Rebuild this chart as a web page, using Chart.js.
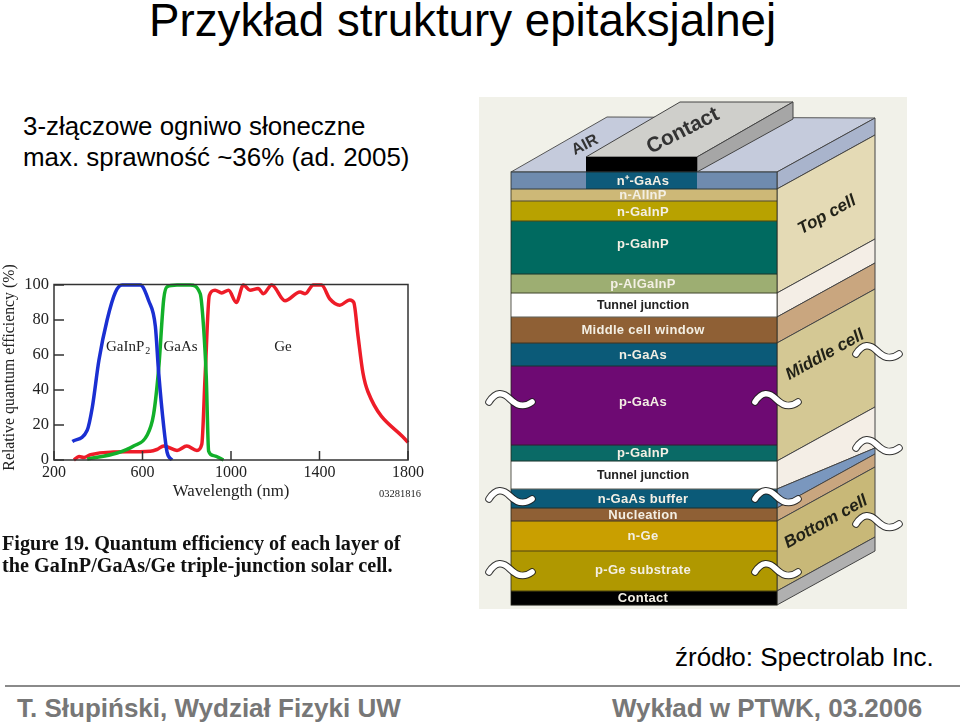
<!DOCTYPE html>
<html lang="pl"><head><meta charset="utf-8">
<script src="https://cdn.jsdelivr.net/npm/chart.js@4/dist/chart.umd.min.js"></script>
<style>
html,body{margin:0;padding:0;background:#fff;width:960px;height:723px;overflow:hidden}
body{position:relative;font-family:"Liberation Sans",Arial,sans-serif;color:#000}
.t{position:absolute;white-space:nowrap}
canvas{position:absolute;filter:blur(.45px)}
.cap{font-family:"Liberation Serif",serif;font-weight:bold;font-size:20.2px;line-height:22px;color:#111;filter:blur(.35px)}
.foot{font-weight:bold;font-size:26px;line-height:30px;color:#777}
#rule{position:absolute;left:5px;top:685px;width:955px;height:2px;background:#8a8a8a}
</style></head><body>
<div class="t" style="left:149px;top:-4px;font-size:45.7px;line-height:50px">Przykład struktury epitaksjalnej</div>
<div class="t" style="left:23px;top:112px;font-size:25.9px;line-height:29px">3-złączowe ogniwo słoneczne</div>
<div class="t" style="left:23px;top:143px;font-size:25.9px;line-height:29px">max. sprawność ~36% (ad. 2005)</div>
<canvas id="qe" width="430" height="240" style="left:0;top:262px"></canvas>
<div class="t" style="left:379px;top:488px;font:10.5px 'Liberation Serif',serif;color:#222">03281816</div>
<div class="t cap" style="left:2px;top:532px">Figure 19. Quantum efficiency of each layer of</div>
<div class="t cap" style="left:2px;top:554px">the GaInP/GaAs/Ge triple-junction solar cell.</div>
<canvas id="stack" width="428" height="512" style="left:479px;top:97px;background:#f1f1e9"></canvas>
<div class="t" style="left:675px;top:642px;font-size:26px;line-height:30px">źródło: Spectrolab Inc.</div>
<div id="rule"></div>
<div class="t foot" style="left:17px;top:693px">T. Słupiński, Wydział Fizyki UW</div>
<div class="t foot" style="left:612px;top:693px">Wykład w PTWK, 03.2006</div>
<script>
// Quantum efficiency curves
const blueWavelength=[283,350,373,403,440,478,508,590,628,658,673,696,711,733];
const blueQE=[10.6,17,30,57,80,96,100,100,91,76.5,50,19,4.5,0];
const greenWavelength=[350,485,560,620,650,673,696,711,756,816,861,876,888,899,921,966];
const greenQE=[0.5,4,8,14,26,52,92,99,100,100,95,76,48,5,2.5,0];
const redWavelength=[290,313,335,365,455,635,665,696,756,800,846,868,883,902,928,958,989,1024,1056,1086,1123,1146,1184,1244,1312,1335,1372,1409,1447,1492,1537,1555,1574,1596,1619,1800];
const redQE=[0,2,1.5,3,4.5,5,6,8,5.5,8,5.5,9,48,94,97,95.5,97,90,100,97,98,95,100,91,96,95,100,100,92,88.5,91.5,90,71,50,39,10];
const curveLabels=["GaInP","GaAs","Ge"];
const curveLabelX=[435,695,1195];
const curveLabelY=[65,65,65];
// Layer stack
const layerNames=["n⁺-GaAs","n-AlInP","n-GaInP","p-GaInP","p-AlGaInP","Tunnel junction","Middle cell window","n-GaAs","p-GaAs","p-GaInP","Tunnel junction","n-GaAs buffer","Nucleation","n-Ge","p-Ge substrate","Contact"];
const layerThickness=[17,12,20,53,19,24,26,23,79,16,28,19,13,30,40,14];
const layerColors=["#6f8bae","#cdb877","#b8a200","#006a60","#9dae72","#ffffff","#8f6035","#0b5a78","#6e0a73","#0a6a66","#ffffff","#0b5a78","#8f6035","#c99f00","#b09800","#000000"];

const serif='"Liberation Serif",serif';
function pts(xs,ys){return xs.map((x,i)=>({x:x,y:ys[i]}));}
const qeDecor={id:'qeDecor',
 afterLayout(c){c.scales.y.top-=10;},
 afterDatasetsDraw(c){
  const g=c.ctx,a=c.chartArea,X=c.scales.x,Y=c.scales.y;
  g.save();
  g.strokeStyle='#333';g.lineWidth=1.5;
  g.strokeRect(a.left,a.top-.5,a.right-a.left,a.bottom-a.top+.5);
  g.beginPath();
  X.ticks.forEach(t=>{const p=X.getPixelForValue(t.value);g.moveTo(p,a.bottom);g.lineTo(p,a.bottom-9);});
  Y.ticks.forEach(t=>{const p=Y.getPixelForValue(t.value);g.moveTo(a.left,p);g.lineTo(a.left+10,p);});
  g.stroke();
  g.fillStyle='#222';g.font='15px '+serif;g.textBaseline='alphabetic';
  curveLabels.forEach((s,i)=>{
    const x=X.getPixelForValue(curveLabelX[i]),y=Y.getPixelForValue(curveLabelY[i])+5;
    g.fillText(s,x,y);
    if(i===0){const w=g.measureText(s).width;g.font='10px '+serif;g.fillText('2',x+w+1,y+3);g.font='15px '+serif;}
  });
  g.restore();
 }};
new Chart(document.getElementById('qe'),{type:'line',plugins:[qeDecor],
 data:{datasets:[
  {label:'GaInP2',data:pts(blueWavelength,blueQE),borderColor:'#1a2fd2',order:1},
  {label:'GaAs',data:pts(greenWavelength,greenQE),borderColor:'#12b02a',order:2},
  {label:'Ge',data:pts(redWavelength,redQE),borderColor:'#ee1c28',order:3}
 ].map(d=>Object.assign(d,{borderWidth:3.5,pointRadius:0,cubicInterpolationMode:'monotone',fill:false,clip:false}))},
 options:{responsive:false,animation:false,devicePixelRatio:1,
  layout:{padding:{top:23,right:22,left:0,bottom:0}},
  plugins:{legend:{display:false},tooltip:{enabled:false},title:{display:false}},
  scales:{
   x:{type:'linear',min:200,max:1800,afterFit(s){s.height=42;},
      grid:{display:false,drawTicks:false,tickLength:0},border:{display:false},
      ticks:{stepSize:400,maxRotation:0,padding:3,color:'#222',font:{family:serif,size:16},callback:v=>String(v)},
      title:{display:true,text:'Wavelength (nm)',color:'#222',padding:{top:0,bottom:0},font:{family:serif,size:16.8}}},
   y:{min:0,max:100,afterFit(s){s.width=54;},
      grid:{display:false,drawTicks:false,tickLength:0},border:{display:false},
      ticks:{stepSize:20,padding:5,color:'#222',font:{family:serif,size:16.5}},
      title:{display:true,text:'Relative quantum efficiency (%)',color:'#222',padding:{top:0,bottom:0},font:{family:serif,size:15.8}}}
  }}});

const faceColors=[[0,1,"#a9b4cc",54],[1,5,"#e4dab5",54],[5,6,"#f4eee6",54],[6,7,"#c9a67f",54],[7,10,"#d4c894",54],[10,11,"#f4eee6",54,41],[11,12,"#7a97be",41,54],[12,13,"#c9a67f",54],[13,15,"#c8b878",54],[15,16,"#b0b0b0",54]];
const labelNudge=[0,0,1,-4,0,0,0,0,-4,0,0,0,0,0,-1,0];
function poly(g,p,fill,stroke){g.beginPath();p.forEach((q,i)=>i?g.lineTo(q[0],q[1]):g.moveTo(q[0],q[1]));g.closePath();
 if(fill){g.fillStyle=fill;g.fill();} if(stroke){g.strokeStyle=stroke;g.lineWidth=1;g.stroke();}}
function squiggle(g,x,y){
 const path=()=>{g.beginPath();g.moveTo(x+1,y+2);g.bezierCurveTo(x+8,y-9,x+15,y-8,x+22,y-1);g.bezierCurveTo(x+29,y+6,x+36,y+8,x+44,y+2);};
 g.lineCap='round';
 path();g.strokeStyle='rgba(30,30,30,.9)';g.lineWidth=7.5;g.stroke();
 path();g.strokeStyle='#fff';g.lineWidth=5.6;g.stroke();
}
function cum(i){return layerThickness.slice(0,i).reduce((a,b)=>a+b,0);}
const stackDecor={id:'stackDecor',
 beforeDatasetsDraw(c){
  const g=c.ctx,a=c.chartArea,Y=c.scales.y,R=a.right,L=a.left,dx=98;
  const y0=Y.getPixelForValue(0);
  g.save();
  poly(g,[[L,y0],[L+96,y0-55],[R+dx,y0-54],[R,y0]],'#c5cbdc','#555');
  faceColors.forEach(f=>{
    const t=Y.getPixelForValue(cum(f[0])),b=Y.getPixelForValue(cum(f[1]));
    const rt=f[3],rb=f[4]===undefined?f[3]:f[4];
    poly(g,[[R,t],[R+dx,t-rt],[R+dx,b-rb],[R,b]],f[2],'#444');
  });
  const cl=L+75,cr=L+186,ch=15;
  poly(g,[[cl,y0-ch],[cr,y0-ch],[cr+96,y0-70],[cl+94,y0-70]],'#cfcfcb','#444');
  poly(g,[[cr,y0-ch],[cr,y0],[cr+96,y0-53],[cr+96,y0-70]],'#a6a6a6','#444');
  poly(g,[[cl,y0-ch],[cr,y0-ch],[cr,y0],[cl,y0]],'#000');
  g.restore();
 },
 afterDatasetsDraw(c){
  const g=c.ctx,a=c.chartArea,Y=c.scales.y,L=a.left,R=a.right;
  g.save();
  g.fillStyle='#0e5a7a';g.fillRect(L+75,Y.getPixelForValue(0),111,layerThickness[0]);
  g.strokeStyle='rgba(35,35,25,.75)';g.lineWidth=1;
  for(let i=1;i<layerThickness.length;i++){const y=Y.getPixelForValue(cum(i));g.beginPath();g.moveTo(L,y);g.lineTo(R,y);g.stroke();}
  g.strokeRect(L,Y.getPixelForValue(0),R-L,Y.getPixelForValue(cum(16))-Y.getPixelForValue(0));
  g.textAlign='center';g.textBaseline='middle';
  layerNames.forEach((s,i)=>{
    const y=(Y.getPixelForValue(cum(i))+Y.getPixelForValue(cum(i+1)))/2+labelNudge[i];
    const dark=layerColors[i]==='#ffffff';
    g.font=dark?'bold 12.5px "Liberation Sans",sans-serif':'bold 13px "Liberation Sans",sans-serif';
    g.letterSpacing=dark?'0px':'.3px';
    g.fillStyle=dark?'#222':'#f3efe4';
    g.fillText(s,(L+R)/2-1,y+.5);
  });
  g.letterSpacing='0px';
  const rot=(s,x,y,font,col,ang)=>{g.save();g.translate(x,y);g.rotate(-ang*Math.PI/180);g.font=font;g.fillStyle=col;g.fillText(s,0,0);g.restore();};
  const it='italic bold 17px "Liberation Sans",sans-serif';
  rot('Top cell',827-479,215-97,it,'#222218',29);
  rot('Middle cell',825-479,355-97,it,'#222218',29);
  rot('Bottom cell',826-479,522-97,it,'#222218',29);
  rot('AIR',585-479,145-97,'bold 16px "Liberation Sans",sans-serif','#333',27);
  rot('Contact',683-479,131-97,'bold 21px "Liberation Sans",sans-serif','#333',27);
  [[488,400],[488,497],[488,570],[754,400],[754,497],[754,570],[855,352],[855,446],[855,522]].forEach(p=>squiggle(g,p[0]-479,p[1]-97));
  g.restore();
 }};
new Chart(document.getElementById('stack'),{type:'bar',plugins:[stackDecor],
 data:{labels:['stack'],datasets:layerNames.map((n,i)=>({label:n,data:[layerThickness[i]],backgroundColor:layerColors[i],borderWidth:0,stack:'s'}))},
 options:{responsive:false,animation:false,devicePixelRatio:1,
  layout:{padding:{left:32,right:130,top:0,bottom:0}},
  datasets:{bar:{barPercentage:1,categoryPercentage:1}},
  plugins:{legend:{display:false},tooltip:{enabled:false},title:{display:false}},
  scales:{x:{display:false,stacked:true},y:{display:false,stacked:true,reverse:true,min:-75,max:437}}}});
</script>
</body></html>
